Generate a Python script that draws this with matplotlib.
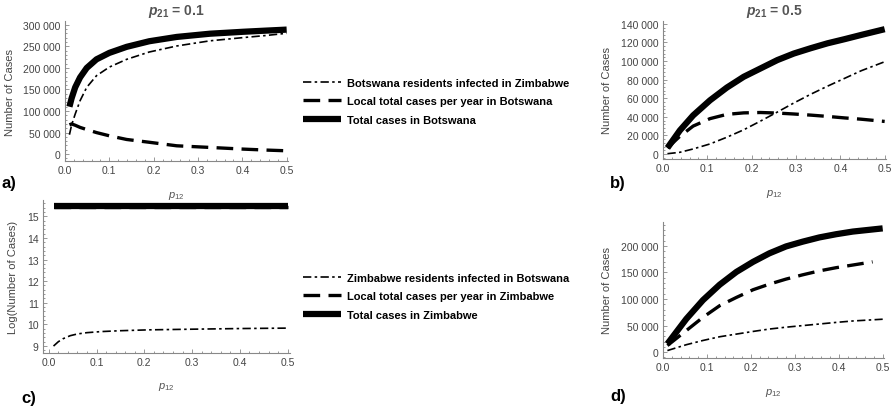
import matplotlib
matplotlib.use('Agg')
import matplotlib.pyplot as plt
from matplotlib.ticker import FuncFormatter, MultipleLocator, AutoMinorLocator

plt.rcParams['font.family'] = ['Liberation Sans', 'DejaVu Sans']
plt.rcParams['mathtext.fontset'] = 'custom'
plt.rcParams['mathtext.it'] = 'Liberation Sans:italic'
plt.rcParams['mathtext.rm'] = 'Liberation Sans'
plt.rcParams['mathtext.bf'] = 'Liberation Sans:bold'
plt.rcParams['mathtext.bfit'] = 'Liberation Sans:bold:italic'

# panel a: p21 = 0.1, Botswana
xa = [0.01, 0.015, 0.023, 0.034, 0.049, 0.071, 0.1, 0.139, 0.19, 0.252, 0.327, 0.402, 0.45, 0.5]
a_resid = [45000, 68000, 93000, 124000, 155000, 182000, 202000, 220000, 237000, 251000, 263000, 270500, 275000, 280500]
a_local = [68000, 70000, 67000, 62000, 57000, 50000, 42500, 34000, 27500, 19300, 15500, 11600, 9500, 7700]
a_total = [110000, 130000, 155000, 178000, 200000, 220000, 235000, 249000, 262000, 272000, 279500, 284000, 286500, 289000]

# panel b: p21 = 0.5, Botswana
xb = [0.01, 0.038, 0.068, 0.106, 0.144, 0.182, 0.22, 0.258, 0.295, 0.333, 0.371, 0.409, 0.447, 0.5]
b_resid = [300, 1800, 5400, 10800, 18000, 26000, 35400, 45100, 54800, 64200, 72900, 81200, 89500, 99200]
b_local = [6500, 19000, 30000, 38000, 42600, 44200, 44600, 44000, 43000, 41800, 40400, 38800, 37400, 35000]
b_total = [6500, 25300, 41500, 57700, 71400, 83000, 92000, 101000, 108000, 113700, 119000, 123400, 128000, 134200]

# panel c: p21 = 0.1, Zimbabwe (log scale values)
xc = [0.01, 0.02, 0.03, 0.045, 0.06, 0.08, 0.11, 0.15, 0.21, 0.3, 0.4, 0.5]
c_resid = [9.0, 9.2, 9.34, 9.48, 9.56, 9.62, 9.67, 9.71, 9.75, 9.78, 9.81, 9.83]
c_local = [15.44] * len(xc)
c_total = [15.46] * len(xc)

# panel d: p21 = 0.5, Zimbabwe
xd = [0.01, 0.053, 0.091, 0.129, 0.167, 0.205, 0.242, 0.28, 0.318, 0.356, 0.394, 0.432, 0.5]
d_resid = [3000, 14000, 22000, 29000, 34000, 39000, 43500, 47000, 50000, 53000, 56000, 58700, 62000]
d_total = [15600, 62500, 98000, 127000, 151000, 170000, 186000, 199000, 208000, 216000, 222000, 227000, 233000]
xd_local = [0.01, 0.053, 0.091, 0.129, 0.167, 0.205, 0.242, 0.28, 0.318, 0.356, 0.394, 0.432, 0.477]
d_local = [12500, 40600, 65600, 87500, 103000, 117500, 128000, 137500, 145600, 153000, 159000, 164000, 170000]

W, H = 894, 410
fig = plt.figure(figsize=(W / 100, H / 100), dpi=100)
gray = '#555555'


def px_axes(l, t, r, b):
    return fig.add_axes([l / W, 1 - b / H, (r - l) / W, (b - t) / H])


def style(ax, ylabel, thousands=True, xpad=10):
    for s in ['top', 'right']:
        ax.spines[s].set_visible(False)
    for s in ['left', 'bottom']:
        ax.spines[s].set_color('#888888')
        ax.spines[s].set_linewidth(0.8)
    ax.tick_params(direction='in', which='both', colors='#888888', labelcolor='#444444',
                   labelsize=7.5, length=3, width=0.6, pad=3)
    ax.tick_params(which='minor', length=1.6)
    ax.xaxis.set_major_locator(MultipleLocator(0.1))
    ax.xaxis.set_minor_locator(AutoMinorLocator(5))
    ax.yaxis.set_minor_locator(AutoMinorLocator(5))
    ax.xaxis.set_major_formatter(FuncFormatter(lambda v, p: '%.1f' % v))
    if thousands:
        ax.yaxis.set_major_formatter(FuncFormatter(lambda v, p: '{:,.0f}'.format(v).replace(',', ' ')))
    ax.set_xlabel(r'$p_{12}$', color=gray, fontsize=8, labelpad=xpad)
    ax.set_ylabel(ylabel, color='#444444', fontsize=8)


def draw(ax, x, resid, local, total, xl=None):
    ax.plot(x, resid, color='black', lw=1.2, ls=(0, (5, 2, 1.5, 2)))
    ax.plot(xl if xl is not None else x, local, color='black', lw=2.4, ls=(0, (5, 2.5)))
    ax.plot(x, total, color='black', lw=4.5, solid_capstyle='butt')


ax_a = px_axes(65, 22, 288, 162)
draw(ax_a, xa, a_resid, a_local, a_total)
ax_a.set_xlim(0, 0.503)
ax_a.set_ylim(-16000, 309000)
ax_a.yaxis.set_major_locator(MultipleLocator(50000))
style(ax_a, 'Number of Cases')
ax_a.set_title(r'$\mathbfit{p}_{\mathbf{21}}$ = 0.1', fontsize=10, fontweight='bold', color=gray, pad=5)
ax_a.yaxis.set_label_coords(-0.224, 0.5)

ax_b = px_axes(663, 22, 886, 160)
draw(ax_b, xb, b_resid, b_local, b_total)
ax_b.set_xlim(0, 0.503)
ax_b.set_ylim(-5400, 143000)
ax_b.yaxis.set_major_locator(MultipleLocator(20000))
style(ax_b, 'Number of Cases')
ax_b.set_title(r'$\mathbfit{p}_{\mathbf{21}}$ = 0.5', fontsize=10, fontweight='bold', color=gray, pad=5)
ax_b.yaxis.set_label_coords(-0.229, 0.5)

ax_c = px_axes(43, 201, 290, 354)
draw(ax_c, xc, c_resid, c_local, c_total)
ax_c.set_xlim(-0.012, 0.505)
ax_c.set_ylim(8.68, 15.75)
ax_c.yaxis.set_major_locator(MultipleLocator(1))
style(ax_c, 'Log(Number of Cases)', thousands=False, xpad=9)
ax_c.yaxis.set_label_coords(-0.10, 0.5)

ax_d = px_axes(663, 223, 884, 359)
draw(ax_d, xd, d_resid, d_local, d_total, xl=xd_local)
ax_d.set_xlim(0, 0.503)
ax_d.set_ylim(-11000, 245000)
ax_d.yaxis.set_major_locator(MultipleLocator(50000))
style(ax_d, 'Number of Cases')
ax_d.yaxis.set_label_coords(-0.231, 0.5)

# legends
labels_top = ['Botswana residents infected in Zimbabwe',
              'Local total cases per year in Botswana',
              'Total cases in Botswana']
labels_bot = ['Zimbabwe residents infected in Botswana',
              'Local total cases per year in Zimbabwe',
              'Total cases in Zimbabwe']
for lab, top in [(labels_top, 69), (labels_bot, 264)]:
    fig.legend(ax_a.get_lines(), lab, loc='upper left', bbox_to_anchor=(293 / W, 1 - top / H),
               frameon=False, handlelength=3.4, labelspacing=0.75, handletextpad=0.6,
               prop={'size': 8, 'weight': 'bold'})

fig.text(2 / W, 1 - 184 / H, 'a)', fontsize=12, fontweight='bold', va='center')
fig.text(610 / W, 1 - 184 / H, 'b)', fontsize=12, fontweight='bold', va='center')
fig.text(21 / W, 1 - 399 / H, 'c)', fontsize=12, fontweight='bold', va='center')
fig.text(610 / W, 1 - 397 / H, 'd)', fontsize=12, fontweight='bold', va='center')

fig.savefig('out.png', dpi=100)
